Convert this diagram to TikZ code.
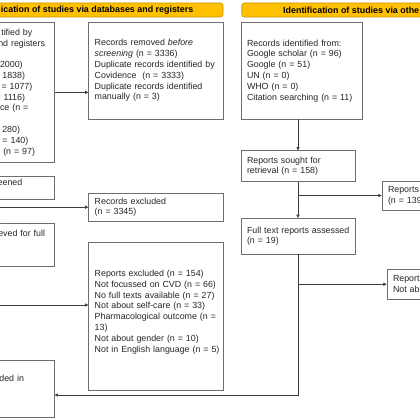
\documentclass[tikz,border=0pt]{standalone}
\usepackage{fontspec}
\setmainfont{Liberation Sans}
\usetikzlibrary{arrows.meta}
\definecolor{hdrfill}{HTML}{FFC000}
\definecolor{hdrdraw}{HTML}{C99700}
\definecolor{boxdraw}{HTML}{6E6E6E}
\definecolor{lncol}{HTML}{3C3C3C}
\definecolor{txt}{HTML}{262626}
\begin{document}
\begin{tikzpicture}[x=1pt, y=-1pt,
  font=\fontsize{8.85}{10.8}\selectfont,
  hdr/.style={draw=hdrdraw, fill=hdrfill, rounded corners=2.5pt, line width=0.6pt, inner sep=0pt},
  hdrtext/.style={font=\fontsize{8.9}{10.8}\selectfont\bfseries, text=black, inner sep=0pt},
  box/.style={draw=boxdraw, line width=0.8pt, fill=white, inner xsep=6pt, inner ysep=0pt,
              align=left, text=txt},
  conn/.style={draw=lncol, line width=0.7pt},
  arr/.style={conn, -{Triangle[length=3.2pt,width=3.2pt]}}]
\useasboundingbox (0,0) rectangle (420,420);
\clip (0,0) rectangle (420,420);

% headers
\node[hdr, minimum width=281.6pt, minimum height=14pt] (hdrL) at (82.2,10) {};
\node[hdrtext, anchor=east] (hdrLt) at (193.5,10) {ication of studies via databases and registers};
\node[hdr, minimum width=263.3pt, minimum height=14pt] (hdrR) at (373.4,10) {};
\node[hdrtext, anchor=west] (hdrRt) at (283,10) {Identification of studies via othe};

% left column (cropped)
\node[box, minimum width=60.3pt, minimum height=139.3pt, text width=48.3pt] (b1) at (24.15,92.35)
 {\hspace*{32.3pt}\llap{tified by}\\
  \hspace*{45pt}\llap{nd registers}\\
  \mbox{}\\
  \hspace*{22.7pt}\llap{2000)}\\
  \hspace*{25pt}\llap{= 1838)}\\
  \hspace*{32.3pt}\llap{= 1077)}\\
  \hspace*{25pt}\llap{= 1116)}\\
  \hspace*{28.3pt}\llap{nce (n =}\\
  \mbox{}\\
  \hspace*{20pt}\llap{280)}\\
  \hspace*{28.3pt}\llap{= 140)}\\
  \hspace*{35pt}\llap{(n = 97)}};
\node[box, minimum width=60.3pt, minimum height=22.3pt, text width=48.3pt] (b2) at (24.15,187.85)
 {\hspace*{22.3pt}\llap{eened}\\\mbox{}};
\node[box, minimum width=60.3pt, minimum height=43pt, text width=48.3pt] (b3) at (24.15,244.5)
 {\hspace*{45pt}\llap{eved for full}\\\mbox{}\\\mbox{}};
\node[box, minimum width=60.3pt, minimum height=57.7pt, text width=48.3pt] (b4) at (24.15,388.85)
 {\hspace*{24pt}\llap{ded in}\\\mbox{}\\\mbox{}};

% middle column
\node[box, minimum width=134.3pt, minimum height=96.7pt, text width=122.3pt] (rem) at (155.85,70.65)
 {\mbox{Records removed \textit{before}}\\
  \mbox{\textit{screening} (n = 3336)}\\
  \mbox{Duplicate records identified by}\\
  \mbox{Covidence\ \ (n = 3333)}\\
  \mbox{Duplicate records identified}\\
  \mbox{manually (n = 3)}};
\node[box, minimum width=134.3pt, minimum height=27.7pt, text width=122.3pt] (excl) at (155.85,207.15)
 {\mbox{Records excluded}\\\mbox{(n = 3345)}};
\node[box, minimum width=134.3pt, minimum height=148.3pt, text width=122.3pt] (rexc1) at (155.85,316.5)
 {\mbox{Reports excluded (n = 154)}\\
  \mbox{Not focussed on CVD (n = 66)}\\
  \mbox{No full texts available (n = 27)}\\
  \mbox{Not about self-care (n = 33)}\\
  \mbox{Pharmacological outcome (n =}\\
  \mbox{13)}\\
  \mbox{Not about gender (n = 10)}\\
  \mbox{Not in English language (n = 5)}\\
  \mbox{}};

% right column
\node[box, minimum width=121pt, minimum height=96.3pt, text width=109pt] (rid) at (301.5,70.85)
 {\mbox{Records identified from:}\\
  \mbox{Google scholar (n = 96)}\\
  \mbox{Google (n = 51)}\\
  \mbox{UN (n = 0)}\\
  \mbox{WHO (n = 0)}\\
  \mbox{Citation searching (n = 11)}};
\node[box, minimum width=114pt, minimum height=31pt, text width=102pt] (sought) at (298,166.2)
 {\mbox{Reports sought for}\\\mbox{retrieval (n = 158)}};
\node[box, minimum width=114pt, minimum height=35.7pt, text width=102pt] (ft) at (298,236.15)
 {\mbox{Full text reports assessed}\\\mbox{(n = 19)}};
\node[box, minimum width=88pt, minimum height=29pt, text width=76pt] (notret) at (426,195.5)
 {\mbox{Reports}\\\mbox{(n = 139}};
\node[box, minimum width=83pt, minimum height=30pt, text width=71pt] (rexc2) at (428.5,284.3)
 {\mbox{Report}\\\mbox{Not abo}};

% connectors
\coordinate (lx) at (-1.5,0);
\draw[arr] (b1.south -| lx) -- (b2.north -| lx);
\draw[arr] (b2.south -| lx) -- (b3.north -| lx);
\draw[arr] (b3.south -| lx) -- (b4.north -| lx);
\draw[arr] (b1.east) -- (b1.east -| rem.west);
\draw[arr] (excl.west -| lx) -- (excl.west);
\coordinate (j3) at (-1.5,305);
\draw[arr] (j3) -- (j3 -| rexc1.west);
\draw[arr] (rid.south -| sought.north) -- (sought.north);
\draw[arr] (sought.south) -- (ft.north);
\draw[arr] (sought.south |- notret.west) -- (notret.west);
\coordinate (j5) at (298,395);
\draw[arr] (ft.south) -- (j5) -- (j5 -| b4.east);
\draw[arr] (ft.south |- rexc2.west) -- (rexc2.west);
\end{tikzpicture}
\end{document}
